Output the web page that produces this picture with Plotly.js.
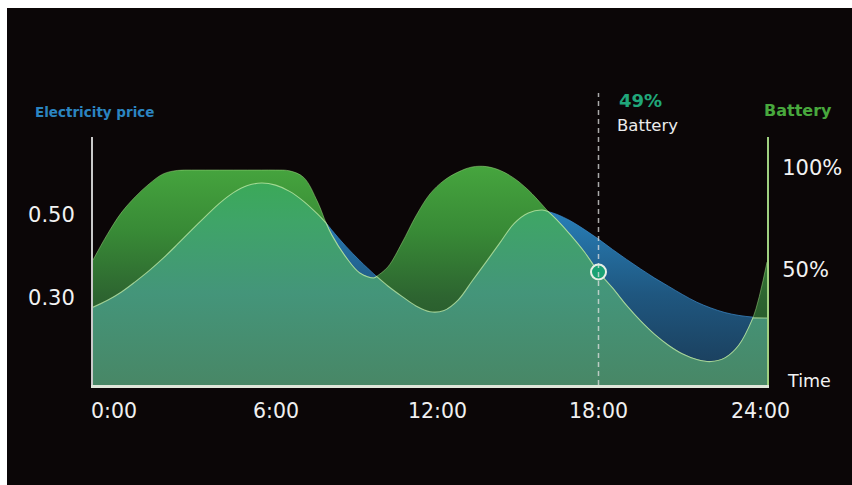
<!DOCTYPE html>
<html><head><meta charset="utf-8">
<script src="https://cdn.plot.ly/plotly-3.0.1.min.js"></script>
<style>
html,body{margin:0;padding:0;background:#ffffff;}
#chart{position:absolute;left:7px;top:8px;width:845px;height:477px;}
</style></head><body><div id="chart"></div>
<script>
// ---- data ----
const hours = [0,0.5,1,1.5,2,2.5,3,3.5,4,4.5,5,5.5,6,6.5,7,7.5,8,8.3,8.5,9,9.5,10,10.1,10.5,11,11.5,12,12.5,13,13.5,14,14.5,15,15.5,16,16.22,16.5,17,17.5,18,18.5,19,19.5,20,20.5,21,21.5,22,22.5,23,23.5,24];
const price = [0.278,0.294,0.314,0.339,0.366,0.396,0.429,0.463,0.496,0.528,0.554,0.571,0.577,0.572,0.557,0.533,0.502,0.481,0.464,0.425,0.390,0.358,0.352,0.329,0.304,0.281,0.267,0.270,0.295,0.341,0.387,0.434,0.480,0.505,0.512,0.508,0.502,0.486,0.465,0.442,0.417,0.393,0.370,0.348,0.328,0.308,0.290,0.276,0.265,0.258,0.254,0.252];
const battery = [54.9,67.2,77.9,85.8,92.2,97.1,98.8,99,99,99,99,99,99,99,98.6,95.4,83.3,73.0,67.2,56.4,48.5,46.1,46.9,51.5,63.2,76.5,87.3,93.9,98.0,100.5,100.7,98.8,94.9,89.2,81.9,78.5,74.8,67.2,58.8,49,41.2,32.6,25.0,18.4,13.0,8.8,6.1,5.1,6.9,13.2,26.5,53.9];
const tickHours  = [0,6,12,18,24];
const tickLabels = ['0:00','6:00','12:00','18:00','24:00'];
const priceTicks = [0.30,0.50];
const priceTickLabels = ['0.30','0.50'];
const batteryTicks = [50,100];
const batteryTickLabels = ['50%','100%'];
const markerHour = 18;
const markerBattery = 49;
const markerLabel = '49%';
const priceTitle = 'Electricity price';
const batteryTitle = 'Battery';
const timeTitle = 'Time';

// ---- axis ranges ----
const priceRange = [0.0904, 0.688];
const batteryRange = [-6.4, 115.2];
const norm = (v, r) => (v - r[0]) / (r[1] - r[0]);
const TOL = 0.008;

// overlap = area under both curves (lower of the two, on a shared 0..1 plot-height scale).
// Points where the curves cross are repeated so the outline keeps a sharp corner there.
const overlapX = [], overlapY = [];
hours.forEach((h, i) => {
  const np = norm(price[i], priceRange), nb = norm(battery[i], batteryRange);
  const m = Math.min(np, nb);
  overlapX.push(h); overlapY.push(m);
  if (i > 0 && i < hours.length - 1 && Math.abs(np - nb) < TOL) { overlapX.push(h); overlapY.push(m); }
});

const FONT = '"DejaVu Sans", Verdana, sans-serif';
const OVER_TOP = 0.82;

const traces = [
  { x: hours, y: price, xaxis: 'x', yaxis: 'y', type: 'scatter', mode: 'lines',
    line: { shape: 'spline', width: 1, color: 'rgba(60,140,205,0.7)' },
    fill: 'tozeroy',
    fillgradient: { type: 'vertical', start: priceRange[0], stop: 0.58,
      colorscale: [[0, '#1a3a55'], [0.45, '#1f5780'], [1, '#2b8dcc']] } },
  { x: hours, y: battery, xaxis: 'x', yaxis: 'y2', type: 'scatter', mode: 'lines',
    line: { shape: 'spline', width: 1, color: 'rgba(160,220,130,0.5)' },
    fill: 'tozeroy',
    fillgradient: { type: 'vertical', start: batteryRange[0], stop: 101,
      colorscale: [[0, '#214a25'], [0.4, '#2d6430'], [0.7, '#388a36'], [1, '#46a53e']] } },
  { x: overlapX, y: overlapY, xaxis: 'x', yaxis: 'y3', type: 'scatter', mode: 'lines',
    line: { shape: 'spline', simplify: false, width: 1.1, color: 'rgba(195,235,170,0.75)' },
    fill: 'tozeroy',
    fillgradient: { type: 'vertical', start: 0, stop: OVER_TOP,
      colorscale: [[0, '#488766'], [0.45, '#44957a'], [0.8, '#3fa468'], [1, '#3ba958']] } },
  { x: [markerHour], y: [markerBattery], xaxis: 'x', yaxis: 'y4', type: 'scatter', mode: 'markers',
    marker: { size: 15, color: '#1aa274', line: { color: '#e6efe6', width: 2 } } }
];

// x tick labels are spaced slightly tighter than the axis itself in the reference
const LABEL_X0 = 21, LABEL_STEP = 26.92, PLOT_W = 674;
const tickAnnotations = tickHours.map((h, i) => ({
  text: tickLabels[i], xref: 'paper', yref: 'paper', x: (LABEL_X0 + h * LABEL_STEP) / PLOT_W, y: -0.105,
  xanchor: 'center', yanchor: 'middle', showarrow: false, font: { size: 20.5, color: '#f0f0f0', family: FONT }
}));

const layout = {
  width: 845, height: 477,
  margin: { l: 86, r: 85, t: 129, b: 100 },
  paper_bgcolor: '#0b0607', plot_bgcolor: '#0b0607',
  showlegend: false, hovermode: false,
  font: { family: FONT, color: '#f2f2f2' },
  xaxis: { range: [0, 24], showline: true, linecolor: '#dfe6da', linewidth: 2.5,
    showticklabels: false, ticks: '', showgrid: false, zeroline: false, anchor: 'y', layer: 'above traces' },
  yaxis: { range: priceRange, side: 'left', showline: true, linecolor: '#c9c9c9', linewidth: 2,
    tickvals: priceTicks, ticktext: priceTickLabels, ticks: '', ticklabelstandoff: 12,
    tickfont: { size: 21, color: '#f2f2f2', family: FONT }, showgrid: false, zeroline: false, layer: 'above traces' },
  yaxis2: { range: batteryRange, overlaying: 'y', side: 'right', showline: true, linecolor: '#9fd080', linewidth: 2,
    tickvals: batteryTicks, ticktext: batteryTickLabels, ticks: '', ticklabelstandoff: 9,
    tickfont: { size: 21, color: '#f2f2f2', family: FONT }, showgrid: false, zeroline: false, layer: 'above traces' },
  yaxis3: { range: [0, 1], overlaying: 'y', visible: false },
  yaxis4: { range: batteryRange, overlaying: 'y', visible: false },
  shapes: [
    { type: 'line', xref: 'x', yref: 'paper', x0: markerHour, x1: markerHour, y0: 0, y1: 1.177,
      line: { color: 'rgba(225,225,225,0.75)', width: 1.5, dash: '5px,4px' }, layer: 'above' }
  ],
  annotations: tickAnnotations.concat([
    { text: '<b>' + priceTitle + '</b>', xref: 'paper', yref: 'paper', x: -0.089, y: 1.101,
      xanchor: 'left', yanchor: 'middle', showarrow: false, font: { size: 13.5, color: '#2b84c0', family: FONT } },
    { text: '<b>' + batteryTitle + '</b>', xref: 'paper', yref: 'paper', x: 0.9926, y: 1.105,
      xanchor: 'left', yanchor: 'middle', showarrow: false, font: { size: 16, color: '#48a83d', family: FONT } },
    { text: '<b>' + markerLabel + '</b>', xref: 'paper', yref: 'paper', x: 0.7774, y: 1.149,
      xanchor: 'left', yanchor: 'middle', showarrow: false, font: { size: 18, color: '#20a67a', family: FONT } },
    { text: batteryTitle, xref: 'paper', yref: 'paper', x: 0.7745, y: 1.048,
      xanchor: 'left', yanchor: 'middle', showarrow: false, font: { size: 16.5, color: '#ececec', family: FONT } },
    { text: timeTitle, xref: 'paper', yref: 'paper', x: 1.0267, y: 0.016,
      xanchor: 'left', yanchor: 'middle', showarrow: false, font: { size: 17.5, color: '#f2f2f2', family: FONT } }
  ])
};

Plotly.newPlot('chart', traces, layout, { staticPlot: true, displayModeBar: false });
</script></body></html>
